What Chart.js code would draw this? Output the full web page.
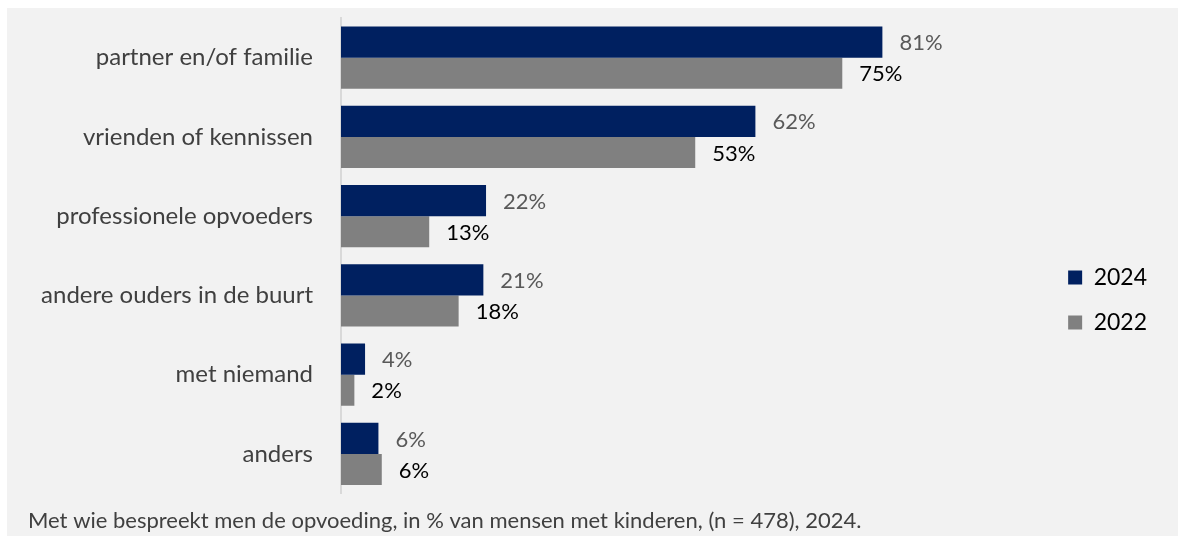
<!DOCTYPE html>
<html>
<head>
<meta charset="utf-8">
<script src="https://cdn.jsdelivr.net/npm/chart.js@4"></script>
<style>
  body { margin: 0; background: #ffffff; }
  #wrap { position: absolute; left: 7px; top: 8px; width: 1171px; height: 528px; background: #f2f2f2; }
</style>
</head>
<body>
<div id="wrap"><canvas id="chart" width="1171" height="528"></canvas></div>
<script>
// categorieen en waarden (in %)
const categories = ['partner en/of familie', 'vrienden of kennissen', 'professionele opvoeders', 'andere ouders in de buurt', 'met niemand', 'anders'];
const values2024 = [81, 62, 21.7, 21.3, 3.6, 5.6];
const values2022 = [75, 53, 13.2, 17.6, 2, 6.1];
const seriesNames = ['2024', '2022'];
const footnote = 'Met wie bespreekt men de opvoeding, in % van mensen met kinderen, (n = 478), 2024.';

const FONT = "Lato, sans-serif";

// labels achter de balken
const barLabels = {
    id: 'barLabels',
    afterDatasetsDraw(chart) {
        const ctx = chart.ctx;
        ctx.save();
        ctx.font = '22px ' + FONT;
        ctx.textBaseline = 'middle';
        ctx.textAlign = 'left';
        chart.data.datasets.forEach((ds, i) => {
            const meta = chart.getDatasetMeta(i);
            ctx.fillStyle = i === 0 ? '#595959' : '#000000';
            meta.data.forEach((bar, j) => {
                ctx.fillText(Math.round(ds.data[j]) + '%', bar.x + 17, bar.y + 1);
            });
        });
        ctx.restore();
    }
};

new Chart(document.getElementById('chart'), {
    type: 'bar',
    data: {
        labels: categories,
        datasets: [
            { label: seriesNames[0], data: values2024, backgroundColor: '#002060', borderWidth: 0 },
            { label: seriesNames[1], data: values2022, backgroundColor: '#808080', borderWidth: 0 }
        ]
    },
    options: {
        indexAxis: 'y',
        responsive: false,
        animation: false,
        categoryPercentage: 0.785,
        barPercentage: 1,
        layout: { padding: { top: 10, right: 21, left: 21, bottom: 0 } },
        plugins: {
            legend: {
                position: 'right',
                title: { display: true, text: ' ', padding: 17, font: { size: 10 } },
                labels: {
                    boxWidth: 14,
                    boxHeight: 14,
                    padding: 22,
                    color: '#000000',
                    font: { family: FONT, size: 23 }
                }
            },
            title: {
                display: true,
                position: 'bottom',
                align: 'start',
                text: footnote,
                color: '#404040',
                font: { family: FONT, size: 22, weight: 'normal' },
                padding: { top: 14, bottom: 2 }
            },
            tooltip: { enabled: false }
        },
        scales: {
            x: {
                display: false,
                min: 0,
                max: 105.5
            },
            y: {
                grid: { display: false, drawTicks: true, tickLength: 28 },
                border: { display: true, color: '#d9d9d9', width: 2 },
                ticks: {
                    color: '#404040',
                    padding: 0,
                    font: { family: FONT, size: 24, lineHeight: 0.8 }
                },
                afterFit(scale) { scale.width = 313; }
            }
        }
    },
    plugins: [barLabels]
});
</script>
</body>
</html>
